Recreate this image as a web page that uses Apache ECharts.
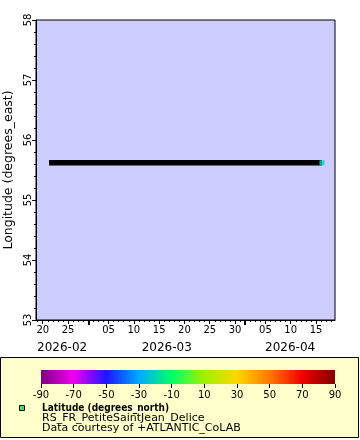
<!DOCTYPE html>
<html><head><meta charset="utf-8">
<script src="https://cdn.jsdelivr.net/npm/echarts@6/dist/echarts.min.js"></script>
<style>html,body{margin:0;padding:0;background:#fff}#c{width:360px;height:440px}</style>
</head><body><div id="c"></div>
<script>
// ---- data ----
const times = ['2026-02-21T06:00:00Z','2026-02-28T00:00:00Z','2026-03-07T00:00:00Z','2026-03-14T00:00:00Z','2026-03-21T00:00:00Z','2026-03-28T00:00:00Z','2026-04-04T00:00:00Z','2026-04-11T00:00:00Z','2026-04-16T04:00:00Z'];
const longitude = [55.62,55.62,55.62,55.62,55.62,55.62,55.62,55.62,55.62];
const lastLatitude = -21.2;
const dayTickLabels = ['2026-02-20','2026-02-25','2026-03-05','2026-03-10','2026-03-15','2026-03-20','2026-03-25','2026-03-30','2026-04-05','2026-04-10','2026-04-15'];
const monthStarts = ['2026-03-01','2026-04-01'];
const monthLabels = ['2026-02','2026-03','2026-04'];
const colorTicks = [-90,-70,-50,-30,-10,10,30,50,70,90];
const yTicks = [53,54,55,56,57,58];
const legendLines = ['Latitude (degrees_north)','RS_FR_PetiteSaintJean_Delice','Data courtesy of +ATLANTIC_CoLAB'];

// ---- helpers ----
const F = 'DejaVu Sans';
const tMin = Date.UTC(2026,1,18,16);
const tMax = Date.UTC(2026,3,18,18);
const DAY = 86400000;
const ms = s => Date.parse(s.length === 10 ? s + 'T00:00:00Z' : s);
const dailyTicks = [];
for (let t = Date.UTC(2026,1,19); t <= tMax; t += DAY) dailyTicks.push(t);
const labelVals = dayTickLabels.map(ms);
const monthVals = monthStarts.map(ms);
const bounds = [tMin].concat(monthVals).concat([tMax]);
const monthCenters = monthLabels.map((m,i) => (bounds[i] + bounds[i+1]) / 2);
const lineData = times.map((t,i) => [ms(t), longitude[i]]);
const lastPt = lineData[lineData.length-1];

function latColor(v){
  const stops = [[-90,[128,0,128]],[-70,[240,0,240]],[-50,[30,20,255]],[-30,[0,170,255]],[-10,[0,255,100]],[10,[160,240,0]],[30,[255,215,0]],[50,[255,120,0]],[70,[240,0,0]],[90,[128,0,0]]];
  for (let i=0;i<stops.length-1;i++){
    const a=stops[i],b=stops[i+1];
    if (v>=a[0] && v<=b[0]){const f=(v-a[0])/(b[0]-a[0]);return 'rgb('+a[1].map((c,k)=>Math.round(c+(b[1][k]-c)*f)).join(',')+')';}
  }
  return 'rgb(128,0,0)';
}
const gradStops = [];
for (let v=-90; v<=90; v+=10) gradStops.push({offset:(v+90)/180, color:latColor(v)});

const base = {fontFamily:F, fontSize:10, color:'#000'};
const chart = echarts.init(document.getElementById('c'), null, {renderer:'canvas'});
chart.setOption({
  animation:false,
  backgroundColor:'#fff',
  textStyle:{fontFamily:F},
  grid:[
    {left:36, top:20, width:299, height:300, show:true, backgroundColor:'#ccccff', borderColor:'#000', borderWidth:1, containLabel:false, outerBoundsMode:'none'},
    {left:41, top:370, width:294, height:14, show:false, containLabel:false, outerBoundsMode:'none'}
  ],
  xAxis:[
    {gridIndex:0, type:'value', position:'bottom', min:tMin, max:tMax,
     axisLine:{show:true, lineStyle:{color:'#000', width:1}},
     axisTick:{show:true, customValues:dailyTicks, length:2, lineStyle:{color:'#000'}},
     axisLabel:{show:true, customValues:labelVals, margin:5, ...base,
       formatter:v=>String(new Date(v).getUTCDate()).padStart(2,'0')},
     splitLine:{show:false}},
    {gridIndex:0, type:'value', position:'bottom', min:tMin, max:tMax,
     axisLine:{show:false},
     axisTick:{show:true, customValues:labelVals, length:4, lineStyle:{color:'#000'}},
     axisLabel:{show:false}, splitLine:{show:false}},
    {gridIndex:0, type:'value', position:'bottom', min:tMin, max:tMax,
     axisLine:{show:false},
     axisTick:{show:true, customValues:monthVals, length:5, lineStyle:{color:'#000', width:2}},
     axisLabel:{show:false}, splitLine:{show:false}},
    {gridIndex:0, type:'value', position:'bottom', offset:17, min:tMin, max:tMax,
     axisLine:{show:false}, axisTick:{show:false},
     axisLabel:{show:true, customValues:monthCenters, margin:5, ...base, fontSize:12,
       formatter:v=>{const i=monthCenters.indexOf(v);return i>=0?monthLabels[i]:'';}},
     splitLine:{show:false}},
    {gridIndex:1, type:'value', position:'bottom', min:-90, max:90,
     axisLine:{show:false},
     axisTick:{show:true, customValues:colorTicks, length:4, lineStyle:{color:'#000'}},
     axisLabel:{show:true, customValues:colorTicks, margin:6, ...base},
     splitLine:{show:false}}
  ],
  yAxis:[
    {gridIndex:0, type:'value', min:53, max:58, interval:1,
     name:'Longitude (degrees_east)', nameLocation:'middle', nameGap:21,
     nameTextStyle:{fontFamily:F, fontSize:12.5, color:'#000'},
     axisLine:{show:true, lineStyle:{color:'#000'}},
     axisTick:{show:true, length:4, lineStyle:{color:'#000'}},
     minorTick:{show:true, splitNumber:5, length:2, lineStyle:{color:'#000'}},
     axisLabel:{show:true, rotate:90, margin:3, ...base, formatter:v=>yTicks.includes(v)?String(v):''},
     splitLine:{show:false}},
    {gridIndex:1, type:'value', min:0, max:1, show:false}
  ],
  series:[
    {type:'line', xAxisIndex:0, yAxisIndex:0, data:lineData, symbol:'none',
     lineStyle:{color:'#000', width:5.5}, silent:true},
    {type:'scatter', xAxisIndex:0, yAxisIndex:0, data:[lastPt], symbol:'rect', symbolSize:5,
     itemStyle:{color:latColor(lastLatitude)}, silent:true, z:5}
  ],
  graphic:[
    {type:'rect', z:-10, shape:{x:0.5, y:357.5, width:358, height:80}, style:{fill:'#ffffcc', stroke:'#000', lineWidth:1}},
    {type:'rect', z:1, shape:{x:41, y:370, width:294, height:14},
     style:{fill:new echarts.graphic.LinearGradient(0,0,1,0,gradStops)}},
    {type:'rect', z:1, shape:{x:19.5, y:405.5, width:5, height:5}, style:{fill:'#44dd44', stroke:'#000', lineWidth:1}},
    {type:'text', z:1, x:42, y:408, style:{text:legendLines[0], font:'bold 10px "DejaVu Sans Condensed", "DejaVu Sans"', fill:'#000', verticalAlign:'middle'}},
    {type:'text', z:1, x:42, y:418, style:{text:legendLines[1], font:'11px "DejaVu Sans"', fill:'#000', verticalAlign:'middle'}},
    {type:'text', z:1, x:42, y:428, style:{text:legendLines[2], font:'11px "DejaVu Sans"', fill:'#000', verticalAlign:'middle'}}
  ]
});
</script></body></html>
